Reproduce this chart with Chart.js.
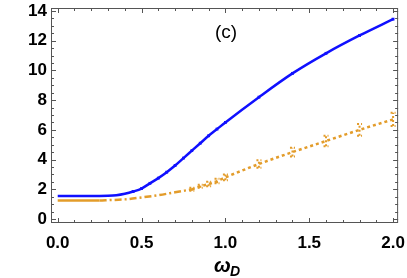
<!DOCTYPE html>
<html>
<head>
<meta charset="utf-8">
<script src="https://cdn.jsdelivr.net/npm/chart.js@4"></script>
<style>
  html, body { margin: 0; padding: 0; background: #fff; }
  #wrap { width: 407px; height: 278px; }
</style>
</head>
<body>
<div id="wrap"><canvas id="c" width="407" height="278"></canvas></div>
<script>
/* data */
const blueX = [0, 0.05, 0.1, 0.15, 0.2, 0.25, 0.3, 0.35, 0.4, 0.45, 0.5, 0.55, 0.6, 0.65, 0.7, 0.75, 0.8, 0.85, 0.9, 0.95, 1.0, 1.2, 1.4, 1.6, 1.8, 2.0];
const blueY = [1.55, 1.55, 1.55, 1.55, 1.55, 1.55, 1.56, 1.6, 1.7, 1.85, 2.05, 2.4, 2.75, 3.15, 3.6, 4.1, 4.6, 5.1, 5.6, 6.05, 6.5, 8.2, 9.8, 11.15, 12.35, 13.45];

const orangeX = [0, 0.05, 0.1, 0.15, 0.2, 0.25, 0.3, 0.4, 0.5, 0.6, 0.7, 0.75, 0.8, 0.85, 0.9, 0.95, 1.0, 1.2, 1.4, 1.6, 1.8, 2.0];
const orangeY = [1.25, 1.25, 1.25, 1.25, 1.25, 1.25, 1.27, 1.32, 1.45, 1.6, 1.8, 1.9, 2.0, 2.2, 2.35, 2.55, 2.8, 3.7, 4.5, 5.25, 6.0, 6.7];

/* orange error bars */
const errX = [0.8, 0.85, 0.9, 0.95, 1.0, 1.2, 1.4, 1.6, 1.8, 2.0];
const errLo = [1.9, 2.1, 2.2, 2.4, 2.6, 3.45, 4.2, 4.9, 5.6, 6.25];
const errHi = [2.1, 2.3, 2.5, 2.7, 3.0, 3.95, 4.8, 5.6, 6.4, 7.15];

const xTickVals = [0, 0.5, 1.0, 1.5, 2.0];
const yTickVals = [0, 2, 4, 6, 8, 10, 12, 14];

const BLUE = "#1010ff";
const ORANGE = "#e39c2a";
const FONT = "'Liberation Sans', Arial, sans-serif";

/* frame, inward ticks, panel label, axis title */
const framePlugin = {
  id: "frame",
  afterDatasetsDraw(chart) {
    const ctx = chart.ctx, a = chart.chartArea;
    const xs = chart.scales.x, ys = chart.scales.y;
    ctx.save();
    ctx.strokeStyle = "#555";
    ctx.lineWidth = 1;
    ctx.strokeRect(a.left + 0.5, a.top + 0.5, a.right - a.left - 1, a.bottom - a.top - 1);

    ctx.beginPath();
    for (let i = 0; i <= 20; i++) {
      const v = i / 10;
      const px = Math.round(xs.getPixelForValue(v)) + 0.5;
      const len = (i % 5 === 0) ? 5 : 3;
      ctx.moveTo(px, a.bottom); ctx.lineTo(px, a.bottom - len);
      ctx.moveTo(px, a.top); ctx.lineTo(px, a.top + len);
    }
    for (let i = 0; i <= 28; i++) {
      const v = i / 2;
      const py = Math.round(ys.getPixelForValue(v)) + 0.5;
      const len = (i % 4 === 0) ? 5 : 3;
      ctx.moveTo(a.left, py); ctx.lineTo(a.left + len, py);
      ctx.moveTo(a.right, py); ctx.lineTo(a.right - len, py);
    }
    ctx.stroke();

    // error bars
    ctx.strokeStyle = ORANGE;
    ctx.lineWidth = 2;
    ctx.setLineDash([2, 2]);
    errX.forEach((x, i) => {
      const px = xs.getPixelForValue(x);
      const lo = ys.getPixelForValue(errLo[i]);
      const hi = ys.getPixelForValue(errHi[i]);
      ctx.beginPath();
      ctx.moveTo(px, lo); ctx.lineTo(px, hi);
      ctx.moveTo(px - 2.5, lo); ctx.lineTo(px + 2.5, lo);
      ctx.moveTo(px - 2.5, hi); ctx.lineTo(px + 2.5, hi);
      ctx.stroke();
    });
    ctx.setLineDash([]);

    ctx.fillStyle = "#000";
    ctx.font = "19px " + FONT;
    ctx.textAlign = "center";
    ctx.textBaseline = "middle";
    ctx.fillText("(c)", 226, 33);

    ctx.font = "italic bold 20px " + FONT;
    ctx.textAlign = "left";
    ctx.textBaseline = "alphabetic";
    ctx.fillText("ω", 214, 272);
    ctx.font = "italic bold 14px " + FONT;
    ctx.fillText("D", 230, 276);
    ctx.restore();
  }
};

const segDash = c => {
  const x = c.p0.parsed.x;
  if (x < 0.22) return [];
  if (x < 0.78) return [7, 3, 2, 3];
  return [3, 3];
};

new Chart(document.getElementById("c"), {
  type: "line",
  data: {
    datasets: [
      {
        label: "blue",
        data: blueX.map((x, i) => ({x, y: blueY[i]})),
        borderColor: BLUE,
        backgroundColor: BLUE,
        borderWidth: 2.5,
        cubicInterpolationMode: "monotone",
        pointStyle: "rect",
        pointRadius: c => (c.raw && c.raw.x >= 0.45 ? 2 : 0),
        pointBorderWidth: 0
      },
      {
        label: "orange",
        data: orangeX.map((x, i) => ({x, y: orangeY[i]})),
        borderColor: ORANGE,
        backgroundColor: ORANGE,
        borderWidth: 2.5,
        cubicInterpolationMode: "monotone",
        segment: { borderDash: segDash },
        pointRadius: 0
      }
    ]
  },
  options: {
    responsive: false,
    animation: false,
    layout: { padding: { top: 8, right: 7, left: 0, bottom: 0 } },
    plugins: { legend: { display: false }, tooltip: { enabled: false } },
    scales: {
      x: {
        type: "linear",
        min: -0.04, max: 2.03,
        afterBuildTicks: s => { s.ticks = xTickVals.map(v => ({value: v})); },
        afterFit: s => { s.height = 55; },
        grid: { display: false },
        border: { display: false },
        ticks: {
          color: "#000",
          padding: 2,
          maxRotation: 0,
          font: { family: FONT, size: 17, weight: "bold" },
          callback: v => v.toFixed(1)
        }
      },
      y: {
        type: "linear",
        min: -0.27, max: 14.2,
        afterBuildTicks: s => { s.ticks = yTickVals.map(v => ({value: v})); },
        afterFit: s => { s.width = 51; },
        grid: { display: false },
        border: { display: false },
        ticks: {
          color: "#000",
          padding: -4,
          font: { family: FONT, size: 17, weight: "bold" }
        }
      }
    }
  },
  plugins: [framePlugin]
});
</script>
</body>
</html>
